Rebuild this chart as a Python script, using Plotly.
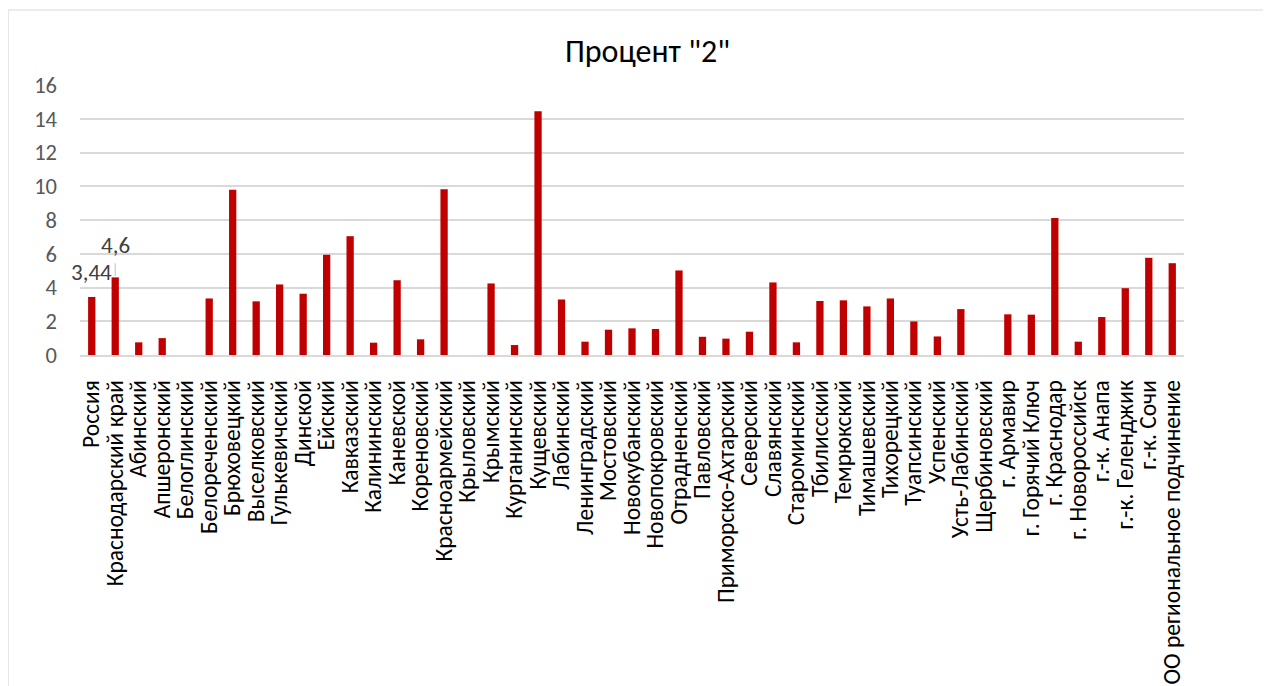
import plotly.graph_objects as go

categories = [
    "Россия", "Краснодарский край", "Абинский", "Апшеронский", "Белоглинский",
    "Белореченский", "Брюховецкий", "Выселковский", "Гулькевичский", "Динской",
    "Ейский", "Кавказский", "Калининский", "Каневской", "Кореновский",
    "Красноармейский", "Крыловский", "Крымский", "Курганинский", "Кущевский",
    "Лабинский", "Ленинградский", "Мостовский", "Новокубанский", "Новопокровский",
    "Отрадненский", "Павловский", "Приморско-Ахтарский", "Северский", "Славянский",
    "Староминский", "Тбилисский", "Темрюкский", "Тимашевский", "Тихорецкий",
    "Туапсинский", "Успенский", "Усть-Лабинский", "Щербиновский", "г. Армавир",
    "г. Горячий Ключ", "г. Краснодар", "г. Новороссийск", "г.-к. Анапа",
    "г.-к. Геленджик", "г.-к. Сочи", "ОО региональное подчинение",
]

values = [
    3.44, 4.6, 0.75, 1.0, 0.0,
    3.35, 9.8, 3.18, 4.18, 3.63,
    5.94, 7.04, 0.73, 4.43, 0.93,
    9.82, 0.0, 4.24, 0.59, 14.44,
    3.29, 0.79, 1.5, 1.58, 1.54,
    5.01, 1.08, 0.97, 1.38, 4.3,
    0.75, 3.2, 3.24, 2.88, 3.35,
    1.99, 1.1, 2.72, 0.0, 2.41,
    2.39, 8.12, 0.79, 2.25, 3.96,
    5.76, 5.44,
]

y_ticks = [0, 2, 4, 6, 8, 10, 12, 14, 16]
title_text = 'Процент "2"'

FONT = "Carlito, Calibri, Lato, sans-serif"

fig = go.Figure()
fig.add_trace(go.Bar(
    x=categories,
    y=values,
    marker=dict(color="#C00000", line=dict(width=0)),
    hoverinfo="x+y",
))

def fmt(v):
    return f"{v:g}".replace(".", ",")

annotations = [
    dict(x=categories[0], y=values[0], xref="x", yref="y", text=fmt(values[0]),
         showarrow=False, yanchor="middle", yshift=25,
         font=dict(family=FONT, size=23, color="#404040")),
    dict(x=categories[1], y=values[1], xref="x", yref="y", text=fmt(values[1]),
         showarrow=False, yanchor="middle", yshift=32,
         font=dict(family=FONT, size=23, color="#404040")),
]

shapes = [
    # leader line for the data label
    dict(type="line", xref="x", yref="y", x0=categories[1], x1=categories[1],
         y0=4.67, y1=5.44, line=dict(color="#BFBFBF", width=1)),
    # chart border
    dict(type="rect", xref="paper", yref="paper", x0=-0.0652, x1=1.09,
         y0=-1.3, y1=1.2778, line=dict(color="#D9D9D9", width=1.2),
         fillcolor="rgba(0,0,0,0)", layer="below"),
]

fig.update_layout(
    width=1271, height=686,
    margin=dict(l=72, r=95, t=77, b=339, autoexpand=False),
    paper_bgcolor="white", plot_bgcolor="white",
    showlegend=False,
    title=dict(text=title_text, x=0.514, xref="paper", xanchor="center",
               y=1 - 43 / 686, yanchor="middle",
               font=dict(family=FONT, size=32, color="#000000")),
    font=dict(family=FONT),
    annotations=annotations,
    shapes=shapes,
    bargap=0.69,
)

fig.update_xaxes(
    type="category",
    range=[-0.5, len(categories) - 0.5],
    tickmode="array",
    tickvals=categories,
    ticktext=categories,
    tickangle=-90,
    tickfont=dict(family=FONT, size=23.5, color="#000000"),
    showgrid=False,
    showline=True, linecolor="#D9D9D9", linewidth=1.5,
    ticks="",
    ticklabelstandoff=14,
    automargin=False,
)

fig.update_yaxes(
    range=[0, 16],
    tickvals=y_ticks,
    tickfont=dict(family=FONT, size=22.5, color="#595959"),
    showgrid=True, gridcolor="#D9D9D9", gridwidth=1.5,
    zeroline=False,
    showline=False,
    ticks="",
    ticklabelstandoff=22,
    automargin=False,
)

fig.write_html("out.html")
